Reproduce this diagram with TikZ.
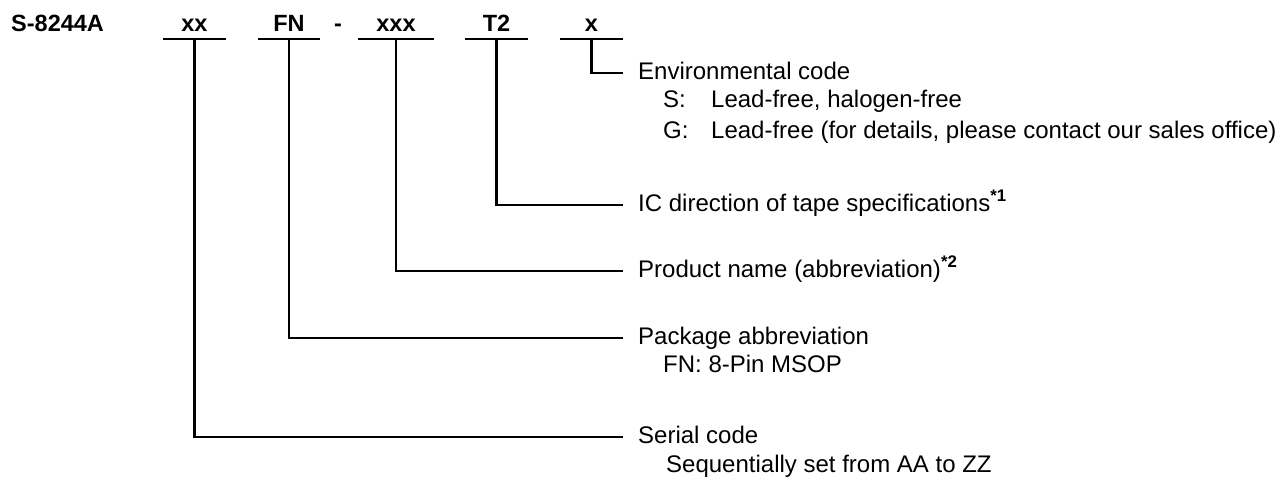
\documentclass[tikz,border=0pt]{standalone}
\usepackage{fontspec}
\setmainfont{Liberation Sans}
\usetikzlibrary{positioning}

\tikzset{
  codepart/.style={font=\fontsize{23.5}{28}\selectfont\bfseries, inner sep=0pt, text height=16pt, text depth=7pt, anchor=south},
  descr/.style={font=\fontsize{24}{27}\selectfont, inner sep=0pt, anchor=west, text height=17pt, text depth=5pt},
  uline/.style={line width=2.2pt},
  leader/.style={line width=2.2pt, shorten >=15pt},
}

\begin{document}
\begin{tikzpicture}[x=1pt, y=-1pt]
            \useasboundingbox (0,0) rectangle (1280,485);

            \node[codepart, anchor=south west] (partno) at (11,39) {S-8244A};
            \node[codepart, minimum width=63pt] (xxcode) at (194.5,39) {xx};
            \node[codepart, minimum width=62pt] (fncode) at (289,39) {FN};
            \node[codepart] (dash) at (338,39) {-};
            \node[codepart, minimum width=76pt] (xxxcode) at (396,39) {xxx};
            \node[codepart, minimum width=63pt] (t2code) at (496.5,39) {T2};
            \node[codepart, minimum width=63pt] (xcode) at (591.5,39) {x};

            \draw[uline] (xxcode.south west) -- (xxcode.south east);
            \draw[uline] (fncode.south west) -- (fncode.south east);
            \draw[uline] (xxxcode.south west) -- (xxxcode.south east);
            \draw[uline] (t2code.south west) -- (t2code.south east);
            \draw[uline] (xcode.south west) -- (xcode.south east);

            \node[descr] (envdesc) at (638,73) {Environmental code};
            \node[descr] (envS) at (663,101.5) {\makebox[48pt][l]{S:}Lead-free, halogen-free};
            \node[descr] (envG) at (663,132) {\makebox[48pt][l]{G:}Lead-free (for details, please contact our sales office)};

            \node[descr] (icdesc) at (638,205) {IC direction of tape specifications\textsuperscript{\bfseries *1}};
            \node[descr] (proddesc) at (638,271) {Product name (abbreviation)\textsuperscript{\bfseries *2}};

            \node[descr] (pkgdesc) at (638,338) {Package abbreviation};
            \node[descr] (pkgFN) at (663,366) {FN: 8-Pin MSOP};

            \node[descr] (serdesc) at (638,437) {Serial code};
            \node[descr] (serSeq) at (666,466) {Sequentially set from AA to ZZ};

          \draw[leader] (xcode.south) |- (envdesc.west);
          \draw[leader] (t2code.south) |- (icdesc.west);
          \draw[leader] (xxxcode.south) |- (proddesc.west);
          \draw[leader] (fncode.south) |- (pkgdesc.west);
          \draw[leader] (xxcode.south) |- (serdesc.west);
\end{tikzpicture}
\end{document}
